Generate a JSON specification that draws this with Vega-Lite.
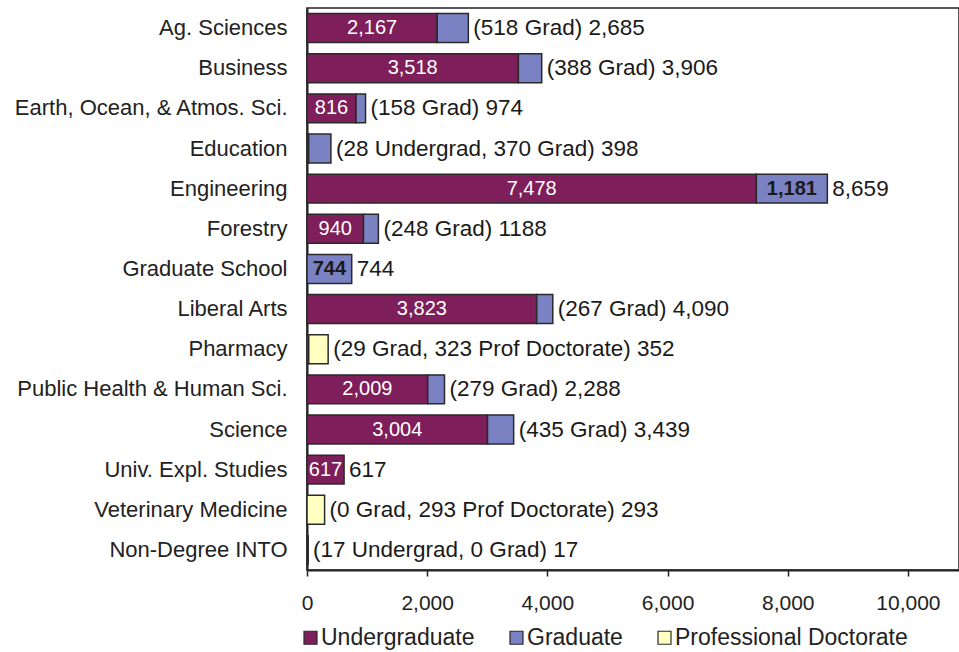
{
  "$schema": "https://vega.github.io/schema/vega-lite/v6.json",
  "width": 652,
  "height": 562,
  "autosize": "none",
  "padding": {"left": 307, "top": 8, "right": 0, "bottom": 82},
  "background": "white",
  "config": {
    "font": "Liberation Sans",
    "view": {"stroke": "#222", "strokeWidth": 1.5},
    "axis": {"labelColor": "#222", "domainColor": "#222", "tickColor": "#222", "labelFont": "Liberation Sans", "labelLimit": 0},
    "axisX": {"format": ",d"}
  },
  "datasets": {
    "bars": [
      {"college": "Ag. Sciences", "type": "Undergraduate", "value": 2167},
      {"college": "Ag. Sciences", "type": "Graduate", "value": 518},
      {"college": "Business", "type": "Undergraduate", "value": 3518},
      {"college": "Business", "type": "Graduate", "value": 388},
      {"college": "Earth, Ocean, & Atmos. Sci.", "type": "Undergraduate", "value": 816},
      {"college": "Earth, Ocean, & Atmos. Sci.", "type": "Graduate", "value": 158},
      {"college": "Education", "type": "Undergraduate", "value": 28},
      {"college": "Education", "type": "Graduate", "value": 370},
      {"college": "Engineering", "type": "Undergraduate", "value": 7478},
      {"college": "Engineering", "type": "Graduate", "value": 1181},
      {"college": "Forestry", "type": "Undergraduate", "value": 940},
      {"college": "Forestry", "type": "Graduate", "value": 248},
      {"college": "Graduate School", "type": "Graduate", "value": 744},
      {"college": "Liberal Arts", "type": "Undergraduate", "value": 3823},
      {"college": "Liberal Arts", "type": "Graduate", "value": 267},
      {"college": "Pharmacy", "type": "Graduate", "value": 29},
      {"college": "Pharmacy", "type": "Professional Doctorate", "value": 323},
      {"college": "Public Health & Human Sci.", "type": "Undergraduate", "value": 2009},
      {"college": "Public Health & Human Sci.", "type": "Graduate", "value": 279},
      {"college": "Science", "type": "Undergraduate", "value": 3004},
      {"college": "Science", "type": "Graduate", "value": 435},
      {"college": "Univ. Expl. Studies", "type": "Undergraduate", "value": 617},
      {"college": "Veterinary Medicine", "type": "Graduate", "value": 0},
      {"college": "Veterinary Medicine", "type": "Professional Doctorate", "value": 293},
      {"college": "Non-Degree INTO", "type": "Undergraduate", "value": 17},
      {"college": "Non-Degree INTO", "type": "Graduate", "value": 0}
    ],
    "totals": [
      {"college": "Ag. Sciences", "total": 2685, "label": "(518 Grad) 2,685"},
      {"college": "Business", "total": 3906, "label": "(388 Grad) 3,906"},
      {"college": "Earth, Ocean, & Atmos. Sci.", "total": 974, "label": "(158 Grad) 974"},
      {"college": "Education", "total": 398, "label": "(28 Undergrad, 370 Grad) 398"},
      {"college": "Engineering", "total": 8659, "label": "8,659"},
      {"college": "Forestry", "total": 1188, "label": "(248 Grad) 1188"},
      {"college": "Graduate School", "total": 744, "label": "744"},
      {"college": "Liberal Arts", "total": 4090, "label": "(267 Grad) 4,090"},
      {"college": "Pharmacy", "total": 352, "label": "(29 Grad, 323 Prof Doctorate) 352"},
      {"college": "Public Health & Human Sci.", "total": 2288, "label": "(279 Grad) 2,288"},
      {"college": "Science", "total": 3439, "label": "(435 Grad) 3,439"},
      {"college": "Univ. Expl. Studies", "total": 617, "label": "617"},
      {"college": "Veterinary Medicine", "total": 293, "label": "(0 Grad, 293 Prof Doctorate) 293"},
      {"college": "Non-Degree INTO", "total": 17, "label": "(17 Undergrad, 0 Grad) 17"}
    ]
  },
  "encoding": {
    "y": {
      "field": "college",
      "type": "nominal",
      "sort": ["Ag. Sciences", "Business", "Earth, Ocean, & Atmos. Sci.", "Education", "Engineering", "Forestry", "Graduate School", "Liberal Arts", "Pharmacy", "Public Health & Human Sci.", "Science", "Univ. Expl. Studies", "Veterinary Medicine", "Non-Degree INTO"],
      "scale": {"paddingInner": 0.28, "paddingOuter": 0.14},
      "axis": {"title": null, "ticks": false, "labelFontSize": 22, "labelPadding": 20, "domainWidth": 2, "labelLimit": 0}
    }
  },
  "layer": [
    {
      "data": {"name": "bars"},
      "transform": [
        {"calculate": "indexof(['Undergraduate','Graduate','Professional Doctorate'], datum.type)", "as": "ord"},
        {"stack": "value", "groupby": ["college"], "sort": [{"field": "ord", "order": "ascending"}], "as": ["x0", "x1"]}
      ],
      "mark": {"type": "bar", "stroke": "#2a2a2a", "strokeWidth": 1.5},
      "encoding": {
        "x": {
          "field": "x0", "type": "quantitative",
          "scale": {"domain": [0, 10850], "nice": false, "zero": true},
          "axis": {"title": null, "values": [0, 2000, 4000, 6000, 8000, 10000], "format": ",d", "grid": false, "labelFontSize": 21, "tickSize": 6, "tickWidth": 1.5, "domainWidth": 2, "labelPadding": 16, "labelFlush": false}
        },
        "x2": {"field": "x1"},
        "color": {
          "field": "type", "type": "nominal",
          "scale": {"domain": ["Undergraduate", "Graduate", "Professional Doctorate"], "range": ["#7E1E5A", "#7A82C3", "#FFFFC2"]},
          "legend": {
            "title": null, "orient": "none", "direction": "horizontal", "legendX": -8, "legendY": 618,
            "symbolType": "square", "symbolSize": 169, "symbolStrokeColor": "#2a2a2a", "symbolStrokeWidth": 1.2,
            "labelFontSize": 23, "labelColor": "#222", "labelOffset": -1, "columnPadding": 30, "padding": 0, "labelLimit": 0
          }
        }
      }
    },
    {
      "data": {"name": "bars"},
      "transform": [
        {"calculate": "indexof(['Undergraduate','Graduate','Professional Doctorate'], datum.type)", "as": "ord"},
        {"stack": "value", "groupby": ["college"], "sort": [{"field": "ord", "order": "ascending"}], "as": ["x0", "x1"]},
        {"filter": "datum.type === 'Undergraduate' && datum.value >= 600"},
        {"calculate": "(datum.x0 + datum.x1) / 2", "as": "mid"}
      ],
      "mark": {"type": "text", "color": "white", "fontSize": 20, "baseline": "middle", "align": "center"},
      "encoding": {
        "x": {"field": "mid", "type": "quantitative"},
        "text": {"field": "value", "type": "quantitative", "format": ","}
      }
    },
    {
      "data": {"name": "bars"},
      "transform": [
        {"calculate": "indexof(['Undergraduate','Graduate','Professional Doctorate'], datum.type)", "as": "ord"},
        {"stack": "value", "groupby": ["college"], "sort": [{"field": "ord", "order": "ascending"}], "as": ["x0", "x1"]},
        {"filter": "datum.type === 'Graduate' && datum.value >= 700"},
        {"calculate": "(datum.x0 + datum.x1) / 2", "as": "mid"}
      ],
      "mark": {"type": "text", "color": "#1a1a1a", "fontSize": 20, "fontWeight": "bold", "baseline": "middle", "align": "center"},
      "encoding": {
        "x": {"field": "mid", "type": "quantitative"},
        "text": {"field": "value", "type": "quantitative", "format": ","}
      }
    },
    {
      "data": {"name": "totals"},
      "mark": {"type": "text", "color": "#1a1a1a", "fontSize": 22.5, "baseline": "middle", "align": "left", "dx": 5},
      "encoding": {
        "x": {"field": "total", "type": "quantitative"},
        "text": {"field": "label"}
      }
    }
  ]
}
